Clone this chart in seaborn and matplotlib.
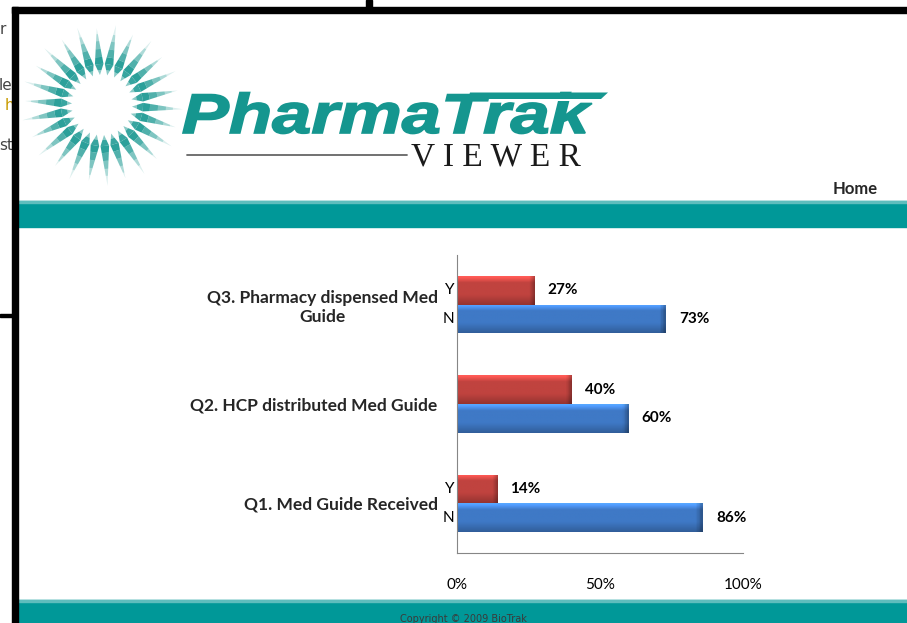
import numpy as np
import pandas as pd
import matplotlib.pyplot as plt
import seaborn as sns
from matplotlib.patches import Rectangle, Polygon, PathPatch
from matplotlib.textpath import TextPath
from matplotlib.font_manager import FontProperties
from matplotlib.colors import to_rgb
import matplotlib.transforms as mtransforms

# Survey results (percent answering Y / N)
QUESTIONS = ["Q3. Pharmacy dispensed Med\nGuide",
             "Q2. HCP distributed Med Guide",
             "Q1. Med Guide Received"]
ANSWERS = ["Y", "N"]
YES_PCT = [27, 40, 14]
NO_PCT = [73, 60, 86]
X_TICKS = [0, 50, 100]
X_TICK_LABELS = ["0%", "50%", "100%"]
# secondary Y/N labels only show up next to these questions
YN_SHOWN = ["Q3. Pharmacy dispensed Med\nGuide", "Q1. Med Guide Received"]

RED = "#C0433F"
BLUE = "#3F79C6"
TEAL = "#009898"
LOGO_TEAL = "#15968F"

df = pd.DataFrame({
    "question": QUESTIONS * 2,
    "answer": ["Y"] * len(QUESTIONS) + ["N"] * len(QUESTIONS),
    "pct": YES_PCT + NO_PCT,
})

sns.set_style("white")
plt.rcParams["font.family"] = ["Lato", "DejaVu Sans"]

fig = plt.figure(figsize=(9.07, 6.23), dpi=100)
W, H = 907, 623

# page background in pixel coords
bg = fig.add_axes([0, 0, 1, 1])
bg.set_xlim(0, W)
bg.set_ylim(H, 0)
bg.axis("off")

# text of the page behind, cut off by the frame
bg.text(0, 30, "r", fontsize=11, color="#444", va="center", family="DejaVu Sans")
bg.text(-1, 86, "le", fontsize=11, color="#444", va="center", family="DejaVu Sans")
bg.text(5, 106, "h", fontsize=11, color="#C89B00", va="center", family="DejaVu Sans")
bg.text(-1, 146, "st", fontsize=11, color="#444", va="center", family="DejaVu Sans")

# black frame of the popup window
bg.add_patch(Rectangle((12, 7), W - 12, 6, color="black", zorder=5))
bg.add_patch(Rectangle((366, 0), 6, 8, color="black", zorder=5))
bg.add_patch(Rectangle((12, 7), 6, H - 7, color="black", zorder=5))
bg.add_patch(Rectangle((0, 314), 13, 3, color="black", zorder=5))

# teal bands
bg.add_patch(Rectangle((18, 201), W - 18, 26, color=TEAL, zorder=2))
bg.add_patch(Rectangle((18, 201), W - 18, 1.5, color="#5EBDBD", zorder=3))
bg.add_patch(Rectangle((18, 600), W - 18, 23, color=TEAL, zorder=2))
bg.add_patch(Rectangle((18, 600), W - 18, 1.5, color="#5EBDBD", zorder=3))
bg.text(400, 619, "Copyright \u00a9 2009 BioTrak", fontsize=7, color="#3a3a3a",
        va="center", family="DejaVu Sans", zorder=4)
bg.text(878, 189, "Home", fontsize=12, fontweight="bold", ha="right", va="center")

# sunburst logo
cx, cy = 102, 105
n_spikes = 26
c = np.array([cx, cy])
for i in range(n_spikes):
    ang = np.deg2rad(i * 360 / n_spikes + 3)
    u = np.array([np.cos(ang), np.sin(ang)])
    v = np.array([-u[1], u[0]])
    r_in, r_w = 30, 41
    r_tip = 81 if i % 2 == 0 else 77
    hw = 4.3

    def half(r):
        if r <= r_w:
            return hw * (r - r_in) / (r_w - r_in)
        return hw * (r_tip - r) / (r_tip - r_w)

    steps = [r_in, 35, r_w, 48, 56, 64, 71, r_tip]
    alphas = [0.5, 0.85, 0.9, 0.75, 0.55, 0.35, 0.15]
    for r1, r2, a in zip(steps[:-1], steps[1:], alphas):
        r2 = min(r2, r_tip)
        if r1 >= r2:
            continue
        pts = [c + r1 * u + half(r1) * v, c + r2 * u + half(r2) * v,
               c + r2 * u - half(r2) * v, c + r1 * u - half(r1) * v]
        bg.add_patch(Polygon(pts, closed=True, facecolor=LOGO_TEAL, alpha=a,
                             edgecolor="none", zorder=2))

# PharmaTrak word mark, stretched wide
fp = FontProperties(family="Liberation Sans", weight="bold", style="italic")
tp = TextPath((0, 0), "PharmaTrak", size=1, prop=fp)
ext = tp.get_extents()
sy = 40 / 0.716
sx = (592 - 183) / ext.width
tr = mtransforms.Affine2D().translate(-ext.x0, 0).scale(sx, -sy).translate(183, 133)
bg.add_patch(PathPatch(tr.transform_path(tp), facecolor=LOGO_TEAL,
                       edgecolor=LOGO_TEAL, lw=1.2, zorder=3))
bg.add_patch(Polygon([(470, 92.5), (608, 92.5), (601, 99), (468, 99)], closed=True,
                     facecolor=LOGO_TEAL, edgecolor="none", zorder=3))
bg.add_patch(Rectangle((500, 99), 102, 2.2, facecolor="white", edgecolor="none",
                       zorder=4))
bg.plot([187, 407], [155, 155], color="#666666", lw=1.3)
bg.text(411, 157, "V I E W E R", fontsize=24, family="Liberation Serif",
        color="#1a1a1a", va="center", ha="left")

# chart
ax = fig.add_axes([457 / W, 1 - 553 / H, 286 / W, 298 / H])
ax.set_zorder(3)
ax.patch.set_alpha(0)
sns.barplot(data=df, y="question", x="pct", hue="answer", order=QUESTIONS,
            hue_order=ANSWERS, palette={"Y": RED, "N": BLUE}, orient="h",
            width=0.58, saturation=1, legend=False, ax=ax, zorder=2)


def shade(base, n=40):
    rgb = np.array(to_rgb(base))
    t = np.linspace(0, 1, n)
    light = np.ones(n)
    light[t < 0.22] = 1.0 + 0.4 * (1 - t[t < 0.22] / 0.22)
    light[t > 0.65] = 1.0 - 0.22 * (t[t > 0.65] - 0.65) / 0.35
    return np.clip(rgb[None, :] * light[:, None], 0, 1)


for cont, base in zip(ax.containers, [RED, BLUE]):
    grad = shade(base)
    for bar in cont:
        x0, y0 = bar.get_x(), bar.get_y()
        w, h = bar.get_width(), bar.get_height()
        ncols = 80
        img = np.repeat(grad[:, None, :], ncols, axis=1)
        # darker bevel at the right end
        xs = np.linspace(0, w, ncols)
        edge = np.clip((w - xs) / 1.8, 0, 1)
        img = img * (0.72 + 0.28 * edge)[None, :, None]
        im = ax.imshow(img, extent=[x0, x0 + w, y0 + h, y0], origin="upper",
                       aspect="auto", zorder=2.5)
        im.set_clip_path(bar)
    labels = ax.bar_label(cont, labels=[f"{v:.0f}%" for v in cont.datavalues],
                          padding=9.5, fontsize=11, fontweight="bold", color="black")
    for t in labels:
        t.set_y(t.get_position()[1] + 0.02)

ax.set_xlim(0, 100)
ax.set_ylim(len(QUESTIONS) - 0.5, -0.5)

# secondary Y/N labels
trans = mtransforms.blended_transform_factory(ax.transAxes, ax.transData)
for q in YN_SHOWN:
    idx = QUESTIONS.index(q)
    for cont, lab in zip(ax.containers, ANSWERS):
        bar = cont[idx]
        yc = bar.get_y() + bar.get_height() / 2
        ax.text(-0.008, yc, lab, transform=trans, ha="right", va="center",
                fontsize=11, color="black")

ax.set_xticks(X_TICKS, labels=X_TICK_LABELS)
ax.set_yticks(np.arange(len(QUESTIONS) + 1) - 0.5, labels=[])
ax.set_yticks(np.arange(len(QUESTIONS)), labels=QUESTIONS, minor=True)
for lab in ax.get_yticklabels(minor=True):
    lab.set_multialignment("center")
    lab.set_fontweight("bold")
ax.tick_params(axis="y", which="minor", length=0, pad=14, labelsize=12.5)
ax.tick_params(axis="y", which="major", length=4, direction="out", color="#868686", width=0.8)
ax.tick_params(axis="x", length=3, direction="out", color="#868686", width=0.8,
               pad=15, labelsize=11, labelcolor="black")
ax.set_xlabel("")
ax.set_ylabel("")
sns.despine(ax=ax, top=True, right=True)
for s in ["left", "bottom"]:
    ax.spines[s].set_color("#868686")
    ax.spines[s].set_linewidth(0.8)

fig.savefig("out.png", dpi=100)
